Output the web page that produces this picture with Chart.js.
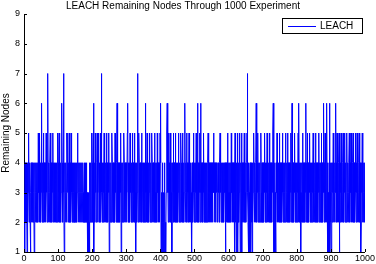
<!DOCTYPE html>
<html>
<head>
<meta charset="utf-8">
<script src="https://cdn.jsdelivr.net/npm/chart.js@4/dist/chart.umd.min.js"></script>
<style>
html,body{margin:0;padding:0;background:#fff;}
#wrap{width:376px;height:264px;position:relative;}
</style>
</head>
<body>
<div id="wrap"><canvas id="c" width="376" height="264"></canvas></div>
<script>
const chartTitle = "LEACH Remaining Nodes Through 1000 Experiment";
const seriesName = "LEACH";
const yAxisTitle = "Remaining Nodes";
const xTicks = [0,100,200,300,400,500,600,700,800,900,1000];
const yTicks = [1,2,3,4,5,6,7,8,9];
const remainingNodes = [
3,1,4,2,3,4,2,3,1,4, 2,3,4,5,2,3,4,2,1,3, 4,2,3,4,2,3,2,4,3,1, 2,4,3,2,4,3,4,2,3,4, 2,5,3,4,2,5,3,4,2,3,
4,6,2,3,4,2,5,3,4,2, 3,4,2,3,5,4,3,2,4,7, 3,2,4,3,2,4,5,3,2,4, 3,2,4,3,5,2,4,3,2,4, 3,2,4,2,3,4,2,3,5,4,
2,3,5,4,2,3,4,2,3,5, 6,4,3,2,4,7,3,1,2,4, 3,2,4,3,2,5,4,3,5,2, 4,3,5,2,4,3,2,5,4,3, 2,4,3,2,4,3,2,4,2,3,
4,2,3,4,2,3,5,4,3,2, 4,3,2,4,3,2,4,3,2,4, 3,2,4,3,2,3,4,2,3,4, 2,3,4,2,3,1,2,1,3,1, 2,1,4,2,3,4,2,3,5,4,
3,2,5,6,1,3,4,2,5,3, 4,2,3,4,5,2,3,4,5,2, 3,4,2,5,3,4,7,3,2,4, 3,2,4,3,5,2,4,3,2,4, 3,5,2,4,3,2,4,3,5,1,
3,4,2,3,4,2,3,5,4,2, 3,4,2,3,4,2,5,3,4,2, 3,4,6,3,2,4,3,2,4,3, 2,4,3,5,1,3,4,2,3,4, 2,3,5,4,2,3,4,2,3,4,
2,3,5,6,3,4,2,3,4,2, 5,3,4,2,3,4,2,5,3,4, 2,3,4,5,2,3,4,1,3,4, 2,3,7,4,2,3,5,4,2,3, 4,2,3,4,5,2,3,4,2,3,
4,2,3,4,2,6,3,4,2,3, 5,4,2,3,4,2,3,5,4,2, 3,4,2,3,5,4,2,3,4,2, 3,4,5,2,3,4,2,3,4,2, 5,3,4,2,3,4,2,3,5,4,
6,1,3,2,1,4,2,1,3,2, 1,4,3,1,2,1,3,4,5,6, 3,4,2,5,3,4,2,3,5,4, 2,3,4,1,3,4,2,5,3,4, 2,3,4,5,2,3,4,2,3,4,
2,3,5,4,2,3,4,2,3,5, 4,2,3,4,5,2,3,4,2,3, 4,6,3,2,4,3,5,2,4,3, 2,4,3,5,2,4,3,2,4,3, 2,1,4,3,2,4,5,3,2,4,
3,2,4,3,5,2,4,3,6,2, 4,3,2,4,3,5,2,6,3,4, 2,3,4,2,3,4,5,2,3,4, 2,3,4,2,3,4,2,3,4,5, 2,3,4,2,3,4,2,3,4,2,
3,4,2,3,4,5,3,4,2,3, 4,2,3,4,3,4,2,3,4,3, 4,2,3,4,5,3,4,2,3,4, 3,4,2,3,4,2,3,4,3,4, 1,3,4,2,3,4,5,2,3,4,
2,3,4,2,3,4,2,5,3,4, 2,3,4,2,3,4,1,3,5,2, 4,1,3,4,2,5,1,3,4,2, 3,5,4,1,2,4,3,5,1,4, 2,3,4,2,3,5,4,2,3,4,
2,3,4,5,7,3,2,1,4,3, 1,2,4,3,1,4,2,3,1,4, 2,3,4,5,3,2,4,3,2,4, 6,3,2,4,3,5,2,4,3,2, 4,3,2,4,5,3,2,4,3,2,
4,3,2,4,3,5,2,4,3,2, 4,3,5,2,4,3,2,4,3,5, 2,4,3,2,4,3,2,4,3,5, 6,1,2,1,4,1,3,1,2,4, 3,5,2,4,3,2,4,3,5,2,
4,3,2,4,3,2,4,5,3,2, 4,3,2,4,3,2,5,4,3,2, 4,3,5,2,4,3,2,4,3,2, 4,3,5,2,4,6,3,2,4,3, 2,4,3,5,2,4,3,2,4,3,
2,4,3,5,2,6,3,4,2,3, 4,1,3,2,4,3,5,2,4,3, 2,4,3,2,4,3,6,2,4,3, 5,2,4,3,2,4,3,5,2,4, 3,2,4,3,2,4,3,5,2,4,
3,2,4,3,5,2,4,3,2,4, 3,2,4,3,5,2,4,3,2,4, 3,5,2,4,3,2,4,3,6,2, 4,3,5,2,4,3,2,6,3,4, 1,3,2,1,4,6,1,3,4,2,
1,4,3,2,4,3,5,2,4,3, 2,4,3,6,2,4,3,5,2,4, 3,2,4,5,1,3,2,4,3,5, 2,4,3,2,4,5,3,2,4,3, 5,2,4,3,2,4,5,3,2,4,
3,2,4,5,3,2,4,3,5,2, 4,3,2,4,5,3,2,4,3,2, 4,5,3,2,4,3,5,2,4,3, 2,4,5,3,2,4,3,1,2,4, 3,5,2,4,3,2,4,3,4,2
];

const points = remainingNodes.map((v, i) => ({x: i + 1, y: v}));
const FONT = "Arial, 'Liberation Sans', Helvetica, sans-serif";

const inwardTicks = {
  id: 'inwardTicks',
  afterDraw(chart) {
    const ctx = chart.ctx, a = chart.chartArea;
    const xs = chart.scales.x, ys = chart.scales.y;
    ctx.save();
    ctx.strokeStyle = '#000';
    ctx.lineWidth = 1;
    ctx.beginPath();
    xTicks.forEach(t => {
      const px = Math.round(xs.getPixelForValue(t)) + 0.5;
      ctx.moveTo(px, a.bottom); ctx.lineTo(px, a.bottom - 3);
    });
    yTicks.forEach(t => {
      const py = Math.round(ys.getPixelForValue(t)) + 0.5;
      ctx.moveTo(a.left, py); ctx.lineTo(a.left + 3, py);
    });
    ctx.stroke();
    // legend box
    const bx = 282.5, by = 18.5, bw = 80, bh = 15;
    ctx.fillStyle = '#fff';
    ctx.fillRect(bx, by, bw, bh);
    ctx.strokeStyle = '#000';
    ctx.strokeRect(bx, by, bw, bh);
    ctx.strokeStyle = '#0000ff';
    ctx.beginPath();
    ctx.moveTo(288, 26.5); ctx.lineTo(316, 26.5);
    ctx.stroke();
    ctx.fillStyle = '#000';
    ctx.font = "10px " + FONT;
    ctx.textBaseline = 'middle';
    ctx.textAlign = 'left';
    ctx.fillText(chart.data.datasets[0].label, 320, 26.5);
    ctx.restore();
  }
};

new Chart(document.getElementById('c'), {
  type: 'line',
  data: {
    datasets: [{
      label: seriesName,
      data: points,
      borderColor: '#0000ff',
      borderWidth: 1,
      pointRadius: 0,
      tension: 0,
      fill: false
    }]
  },
  options: {
    responsive: false,
    animation: false,
    events: [],
    layout: {padding: {top: 0, right: 10, bottom: 0, left: 0}},
    plugins: {
      legend: {display: false},
      tooltip: {enabled: false},
      title: {
        display: true,
        text: chartTitle,
        color: '#000',
        font: {family: FONT, size: 10, weight: 'normal'},
        padding: {top: 0, bottom: 2}
      }
    },
    scales: {
      x: {
        type: 'linear',
        min: 0, max: 1000,
        afterFit(s) { s.height = 12; },
        afterBuildTicks(s) { s.ticks = xTicks.map(v => ({value: v})); },
        grid: {display: false, drawTicks: false},
        border: {display: true, color: '#000', width: 1},
        ticks: {color: '#000', font: {family: FONT, size: 9}, padding: 1, maxRotation: 0, autoSkip: false,
                callback: v => String(v)}
      },
      y: {
        min: 1, max: 9,
        afterFit(s) { s.width = 24; },
        afterBuildTicks(s) { s.ticks = yTicks.map(v => ({value: v})); },
        grid: {display: false, drawTicks: false},
        border: {display: true, color: '#000', width: 1},
        ticks: {color: '#000', font: {family: FONT, size: 9}, padding: 4, autoSkip: false,
                callback: v => String(v)},
        title: {display: true, text: yAxisTitle, color: '#000', font: {family: FONT, size: 10}, padding: 0}
      }
    }
  },
  plugins: [inwardTicks]
});
</script>
</body>
</html>
